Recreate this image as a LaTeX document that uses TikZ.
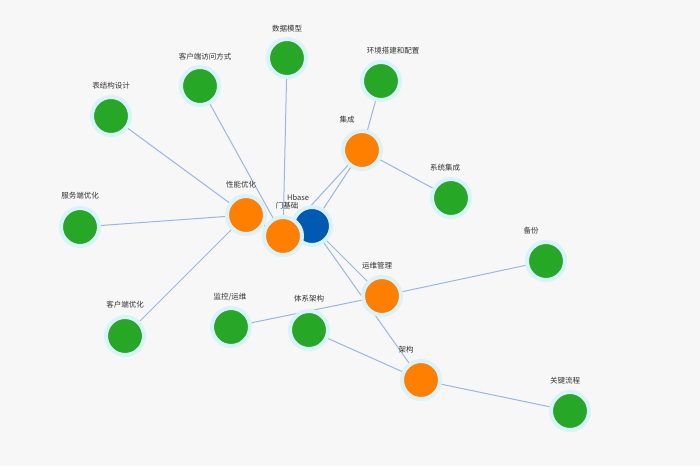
\documentclass[tikz,border=0pt]{standalone}
\usepackage{fontspec}
\newfontfamily\cjk{Noto Sans CJK SC}
\begin{document}
\begin{tikzpicture}[x=1pt,y=-1pt,
 e/.style={draw=cyan!50!blue!40, line width=1pt},
 base/.style={circle, minimum size=38pt, inner sep=0pt, draw=cyan!15, line width=4pt},
 g/.style={base, fill=green!60!black!85},
 o/.style={base, fill=orange},
 b/.style={base, fill=blue!50!cyan!70!black},
 l/.style={font=\cjk\fontsize{7.5}{9}\selectfont, text=black!80}]
\fill[black!3] (0,0) rectangle (700,466);
\useasboundingbox (0,0) rectangle (700,466);
\coordinate (H) at (312,226);
\coordinate (R) at (283,236);
\coordinate (X) at (246,215);
\coordinate (J) at (362,150);
\coordinate (Y) at (382,296);
\coordinate (A) at (421,380);
\coordinate (a1) at (287,58);
\coordinate (a2) at (200,86);
\coordinate (a3) at (111,116);
\coordinate (a4) at (80,227);
\coordinate (a5) at (125,336);
\coordinate (a6) at (381,81);
\coordinate (a7) at (451,198);
\coordinate (a8) at (546,261);
\coordinate (a9) at (231,327);
\coordinate (a10) at (309,330);
\coordinate (a11) at (570,411);
\foreach \p/\q in {H/R,H/J,H/Y,H/A,R/X,R/J,R/a1,R/a2,X/a3,X/a4,X/a5,J/a6,J/a7,Y/a8,Y/a9,A/a10,A/a11}
 \draw[e] (\p) -- (\q);
\foreach \n in {a1,a2,a3,a4,a5,a6,a7,a8,a9,a10,a11} \node[g] (n\n) at (\n) {};
\node[o] (nX) at (X) {};
\node[o] (nJ) at (J) {};
\node[o] (nY) at (Y) {};
\node[o] (nA) at (A) {};
\node[b] (nH) at (H) {};
\node[o] (nR) at (R) {};
\node[l] (t1) at (287,29) {数据模型};
\node[l] (t2) at (205,57) {客户端访问方式};
\node[l] (t3) at (111,86) {表结构设计};
\node[l] (t4) at (80,196) {服务端优化};
\node[l] (t5) at (125,305) {客户端优化};
\node[l] (t6) at (393,51) {环境搭建和配置};
\node[l] (t7) at (445,168) {系统集成};
\node[l] (t8) at (531,231) {备份};
\node[l] (t9) at (230,297) {监控/运维};
\node[l] (t10) at (309,299) {体系架构};
\node[l] (t11) at (565,381) {关键流程};
\node[l] (tX) at (241,185) {性能优化};
\node[l] (tJ) at (347,120) {集成};
\node[l] (tY) at (377,266) {运维管理};
\node[l] (tA) at (406,350) {架构};
\node[l] (tH) at (298,198) {Hbase};
\node[l] (tR) at (287,206) {门基础};
\end{tikzpicture}
\end{document}
